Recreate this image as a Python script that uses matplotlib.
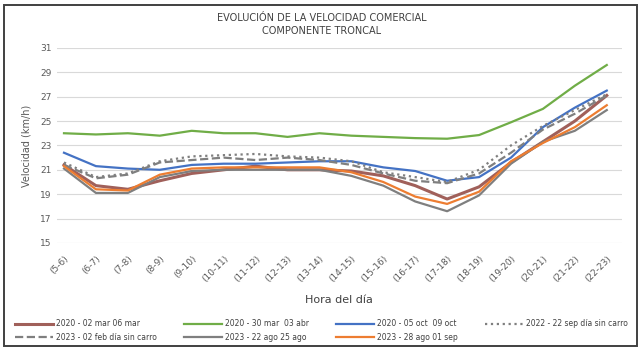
import numpy as np
import matplotlib
matplotlib.use("Agg")
import matplotlib.pyplot as plt
from matplotlib.patches import Rectangle

horas = ["(5-6)", "(6-7)", "(7-8)", "(8-9)", "(9-10)", "(10-11)", "(11-12)", "(12-13)",
         "(13-14)", "(14-15)", "(15-16)", "(16-17)", "(17-18)", "(18-19)", "(19-20)",
         "(20-21)", "(21-22)", "(22-23)"]

mar_2020 = [21.4, 19.7, 19.4, 20.1, 20.7, 21.0, 21.3, 21.0, 21.0, 20.9, 20.5, 19.7, 18.6, 19.6, 21.6, 23.3, 25.0, 27.1]
abr_2020 = [24.0, 23.9, 24.0, 23.8, 24.2, 24.0, 24.0, 23.7, 24.0, 23.8, 23.7, 23.6, 23.55, 23.85, 24.9, 26.0, 27.9, 29.6]
oct_2020 = [22.4, 21.3, 21.1, 21.0, 21.4, 21.5, 21.5, 21.6, 21.7, 21.7, 21.2, 20.9, 20.1, 20.4, 22.0, 24.5, 26.1, 27.5]
sep_2022 = [21.6, 20.4, 20.7, 21.7, 22.1, 22.2, 22.3, 22.1, 22.0, 21.7, 20.8, 20.4, 20.0, 21.0, 23.0, 24.6, 25.9, 27.2]
feb_2023 = [21.4, 20.3, 20.6, 21.6, 21.8, 22.0, 21.8, 22.0, 21.8, 21.4, 20.7, 20.1, 19.9, 20.7, 22.4, 24.3, 25.6, 27.1]
ago_2023 = [21.1, 19.1, 19.1, 20.4, 20.9, 21.0, 21.0, 21.0, 21.0, 20.5, 19.7, 18.4, 17.6, 18.9, 21.5, 23.3, 24.2, 25.9]
sep_2023 = [21.3, 19.4, 19.3, 20.6, 21.1, 21.2, 21.2, 21.2, 21.2, 20.8, 20.0, 18.8, 18.2, 19.2, 21.7, 23.2, 24.5, 26.3]

series = [
    ("2020 - 02 mar 06 mar", mar_2020, "#A0605A", "-", 2.2),
    ("2020 - 30 mar  03 abr", abr_2020, "#70AD47", "-", 1.6),
    ("2020 - 05 oct  09 oct", oct_2020, "#4472C4", "-", 1.6),
    ("2022 - 22 sep día sin carro", sep_2022, "#7F7F7F", ":", 1.6),
    ("2023 - 02 feb día sin carro", feb_2023, "#7F7F7F", "--", 1.6),
    ("2023 - 22 ago 25 ago", ago_2023, "#7F7F7F", "-", 1.6),
    ("2023 - 28 ago 01 sep", sep_2023, "#ED7D31", "-", 1.6),
]

plt.rcParams['font.family'] = ['DejaVu Sans']
fig = plt.figure(figsize=(6.43, 3.5), dpi=100)
ax = fig.add_axes([0.0886, 0.306, 0.8784, 0.557])

x = np.arange(len(horas))
handles = []
for name, vals, c, ls, lw in series:
    line, = ax.plot(x, vals, color=c, ls=ls, lw=lw, label=name)
    handles.append(line)

ax.set_ylim(15, 31)
ax.set_yticks(range(15, 32, 2))
ax.set_xlim(-0.22, 17.47)
ax.set_xticks(x)
ax.set_xticklabels(horas, rotation=45, ha='right', rotation_mode='anchor')
ax.tick_params(axis='both', length=0, labelsize=6.5, colors='#595959', pad=4)
ax.tick_params(axis='x', pad=8)
ax.grid(axis='y', color='#D9D9D9', lw=0.8)
ax.set_axisbelow(True)
for s in ax.spines.values():
    s.set_visible(False)

ax.set_ylabel('Velocidad (km/h)', fontsize=7, color='#595959', labelpad=6)
ax.set_xlabel('Hora del día', fontsize=8, color='#404040', labelpad=8)

fig.text(0.5, 0.948, 'EVOLUCIÓN DE LA VELOCIDAD COMERCIAL', ha='center', va='center',
         fontsize=7, color='#404040')
fig.text(0.5, 0.91, 'COMPONENTE TRONCAL', ha='center', va='center',
         fontsize=7, color='#404040')

# reorder so legend fills row by row
order = [0, 4, 1, 5, 2, 6, 3]
fig.legend([handles[i] for i in order], [series[i][0] for i in order],
           loc='center', bbox_to_anchor=(0.5, 0.055), ncol=4, frameon=False,
           fontsize=5.5, handlelength=5, columnspacing=3.5, labelspacing=0.6,
           handletextpad=0.4, labelcolor='#404040')

fig.add_artist(Rectangle((0.006, 0.012), 0.985, 0.975, transform=fig.transFigure,
                         fill=False, edgecolor='#404040', lw=1.4))

fig.savefig('out.png', dpi=100)
